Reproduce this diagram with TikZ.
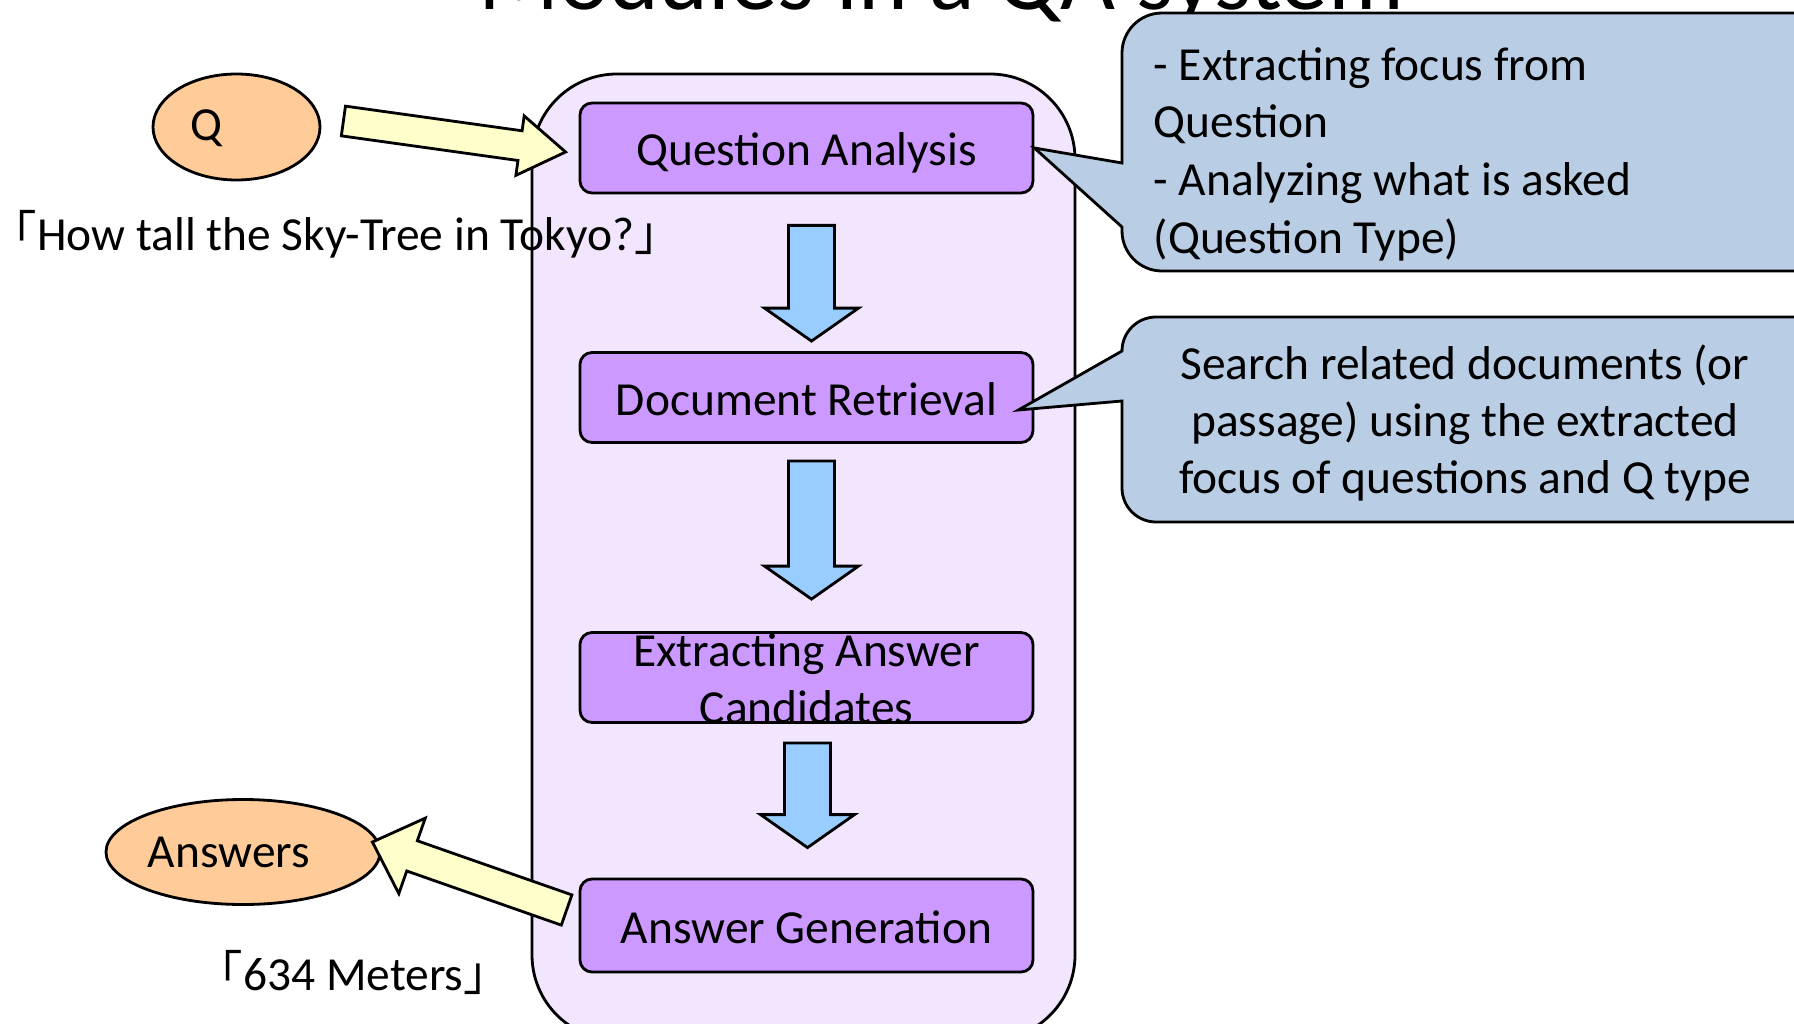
\documentclass[tikz,border=0pt]{standalone}
\usepackage{fontspec}
\setmainfont{Carlito}
\newfontfamily\cjk{Noto Sans CJK JP}
\usepackage{xcolor}
\usepackage{tikz}
\usetikzlibrary{calc,shapes.geometric}

\definecolor{boxpurple}{HTML}{CC99FF}
\definecolor{panel}{HTML}{F2E6FF}
\definecolor{arrowblue}{HTML}{99CCFF}
\definecolor{notefill}{HTML}{B9CDE5}
\definecolor{ioorange}{HTML}{FFCC99}
\definecolor{flowyellow}{HTML}{FFFFCC}

\tikzset{
	module/.style={draw, line width=0.8pt, fill=boxpurple, rounded corners=1.2mm, minimum width=45.3mm, minimum height=9mm, text height=11pt, text depth=1pt},
	io/.style={draw, line width=0.8pt, fill=ioorange, ellipse, inner sep=0pt},
	bluearrow/.style={draw, line width=0.8pt, fill=arrowblue},
	yellowarrow/.style={draw, line width=0.8pt, fill=flowyellow},
	note/.style={draw, line width=0.8pt, fill=notefill},
}

% #1 style, #2 from, #3 to, #4 half shaft, #5 half head, #6 head length
\newcommand{\fatarrow}[6]{
	\coordinate (fahead) at ($(#3)!#6!(#2)$);
	\draw[#1] ($(#2)!#4!90:(#3)$) -- ($(fahead)!#4!-90:(#2)$) -- ($(fahead)!#5!-90:(#2)$) -- (#3)
		-- ($(fahead)!#5!90:(#2)$) -- ($(fahead)!#4!90:(#2)$) -- ($(#2)!#4!-90:(#3)$) -- cycle;
}

\begin{document}
\begin{tikzpicture}[x=0.1mm, y=-0.1mm, font=\fontsize{13.5}{16.2}\selectfont]
	\path[use as bounding box] (0,0) rectangle (1794,1024);
	\clip (0,0) rectangle (1794,1024);
	\fill[white] (0,0) rectangle (1794,1024);

	\node[font=\fontsize{27}{32}\selectfont, anchor=base] (title) at (941,10) {Modules in a QA system};

	\draw[line width=0.8pt, fill=panel, rounded corners=8.5mm] (532,74) rectangle (1075,1040);

	\node[module] (qa) at (806.5,148) {Question Analysis};
	\node[module] (dr) at (806.5,397.5) {Document Retrieval};
	\node[module] (eac) at (806.5,677.5) {};
	\node[align=center, inner sep=0pt] (eactext) at (806.5,679) {Extracting Answer\\Candidates};
	\node[module, minimum height=9.3mm] (ag) at (806.5,925.5) {Answer Generation};

	\foreach \from/\to/\gapa/\gapb/\dx in {qa/dr/31/10/5, dr/eac/17/32/5, eac/ag/19/30/1}{
		\coordinate (\from-out) at ($(\from.south)+(\dx,\gapa)$);
		\coordinate (\to-in) at ($(\to.north)+(\dx,-\gapb)$);
		\fatarrow{bluearrow}{\from-out}{\to-in}{2.3mm}{4.7mm}{3.3mm}
	}

	\node[io, minimum width=16.7mm, minimum height=10.6mm] (q) at (236.5,127) {};
	\node (qlabel) at (206,128) {Q};
	\node[anchor=base west, inner sep=0pt] (qcap) at (-11,251) {{\cjk 「}How tall the Sky-Tree in Tokyo?{\cjk 」}};

	\node[io, minimum width=27.4mm, minimum height=10.5mm] (ans) at (243,852) {};
	\node (anslabel) at (229,852) {Answers};
	\node[anchor=base west, inner sep=0pt] (anscap) at (195,990) {{\cjk 「}634 Meters{\cjk 」}};

	\coordinate (qout) at ($(q.east)+(22,-6)$);
	\coordinate (qain) at ($(qa.west)+(-13,4)$);
	\fatarrow{yellowarrow}{qout}{qain}{1.5mm}{3mm}{4.6mm}

	\coordinate (agout) at ($(ag.west)+(-12,-15.5)$);
	\coordinate (ansin) at ($(ans.east)+(-9,-10)$);
	\fatarrow{yellowarrow}{agout}{ansin}{1.6mm}{4mm}{4.2mm}

	\draw[note] (qa.east) -- (1122,163) -- (1122,53) arc[start angle=180, end angle=90, radius=4mm]
		-- (1840,13) -- (1840,271) -- (1162,271) arc[start angle=270, end angle=180, radius=4mm] -- (1122,227) -- cycle;
	\node[align=left, anchor=west, inner sep=0pt, font=\fontsize{13.5}{16.4}\selectfont] (qanote) at (1153,154)
		{- Extracting focus from\\Question\\- Analyzing what is asked\\(Question Type)};

	\coordinate (drtip) at ($(dr.east)+(-16,12.5)$);
	\draw[note] (drtip) -- (1122,351) arc[start angle=180, end angle=90, radius=3.4mm]
		-- (1840,317) -- (1840,522) -- (1156,522) arc[start angle=270, end angle=180, radius=3.4mm] -- (1122,401) -- cycle;
	\node[align=center, inner sep=0pt] (drnote) at (1465,423)
		{Search related documents (or\\passage) using the extracted\\focus of questions and Q type};
\end{tikzpicture}
\end{document}
